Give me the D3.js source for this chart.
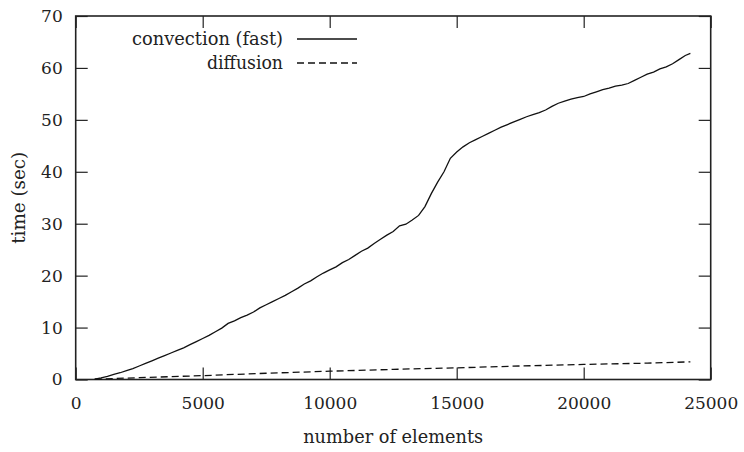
<!DOCTYPE html>
<html>
<head>
<meta charset="utf-8">
<script src="https://cdn.jsdelivr.net/npm/d3@7"></script>
</head>
<body style="margin:0; background:#fff">
<script>
const width = 744;
const height = 452;
const margin = { top: 16, right: 33.3, bottom: 72.5, left: 75.7 };
const fontName = "DejaVu Serif";

// convection (fast)
const convElements = [
  750, 1000, 1250, 1500, 1750, 2000, 2250, 2500, 2750, 3000, 3250, 3500, 3750,
  4000, 4250, 4500, 4750, 5000, 5250, 5500, 5750, 6000, 6250, 6500, 6750, 7000,
  7250, 7500, 7750, 8000, 8250, 8500, 8750, 9000, 9250, 9500, 9750, 10000,
  10250, 10500, 10750, 11000, 11250, 11500, 11750, 12000, 12250, 12500, 12750,
  13000, 13250, 13500, 13750, 14000, 14250, 14500, 14750, 15000, 15250, 15500,
  15750, 16000, 16250, 16500, 16750, 17000, 17250, 17500, 17750, 18000, 18250,
  18500, 18750, 19000, 19250, 19500, 19750, 20000, 20250, 20500, 20750, 21000,
  21250, 21500, 21750, 22000, 22250, 22500, 22750, 23000, 23250, 23500, 23750,
  24000, 24200
];
const convTime = [
  0.05, 0.3, 0.6, 1.0, 1.3, 1.7, 2.1, 2.6, 3.1, 3.6, 4.1, 4.6, 5.1,
  5.6, 6.1, 6.7, 7.3, 7.9, 8.5, 9.2, 9.9, 10.8, 11.3, 11.9, 12.4, 13.0,
  13.8, 14.4, 15.0, 15.6, 16.2, 16.9, 17.6, 18.4, 19.0, 19.8, 20.5, 21.1,
  21.7, 22.5, 23.1, 23.9, 24.7, 25.3, 26.2, 27.0, 27.8, 28.5, 29.6,
  29.9, 30.7, 31.6, 33.3, 35.8, 38.0, 40.0, 42.6, 43.8, 44.8, 45.6,
  46.2, 46.8, 47.4, 48.0, 48.6, 49.1, 49.6, 50.1, 50.6, 51.0, 51.4,
  51.9, 52.6, 53.2, 53.6, 54.0, 54.3, 54.5, 55.0, 55.4, 55.8, 56.1,
  56.5, 56.7, 57.0, 57.6, 58.2, 58.8, 59.2, 59.8, 60.2, 60.8, 61.6,
  62.4, 62.8
];

// diffusion
const diffElements = [750, 2500, 5000, 7500, 10000, 12500, 15000, 17500, 20000, 22500, 24200];
const diffTime = [0.05, 0.35, 0.75, 1.2, 1.6, 1.95, 2.25, 2.6, 2.9, 3.15, 3.4];

const xTicks = [0, 5000, 10000, 15000, 20000, 25000];
const yTicks = [0, 10, 20, 30, 40, 50, 60, 70];

const seriesNames = ["convection (fast)", "diffusion"];

const svg = d3.select("body")
  .append("svg")
  .attr("width", width)
  .attr("height", height);

const x = d3.scaleLinear().domain([0, 25000]).range([margin.left, width - margin.right]);
const y = d3.scaleLinear().domain([0, 70]).range([height - margin.bottom, margin.top]);

const tickLen = 12;

// bottom axis with labels, ticks pointing in
const xAxisG = svg.append("g")
  .attr("transform", `translate(0,${y(0)})`)
  .call(d3.axisBottom(x).tickValues(xTicks).tickFormat(d3.format("d"))
    .tickSizeInner(-tickLen).tickSizeOuter(0).tickPadding(17));

const yAxisG = svg.append("g")
  .attr("transform", `translate(${x(0)},0)`)
  .call(d3.axisLeft(y).tickValues(yTicks)
    .tickSizeInner(-tickLen).tickSizeOuter(0).tickPadding(13));

// mirrored ticks on top and right
svg.append("g")
  .attr("transform", `translate(0,${y(70)})`)
  .call(d3.axisTop(x).tickValues(xTicks).tickFormat("").tickSizeInner(-tickLen).tickSizeOuter(0));
svg.append("g")
  .attr("transform", `translate(${x(25000)},0)`)
  .call(d3.axisRight(y).tickValues(yTicks).tickFormat("").tickSizeInner(-tickLen).tickSizeOuter(0));

svg.selectAll("g").attr("font-family", fontName);
svg.selectAll(".domain").remove();
svg.selectAll(".tick line").attr("stroke", "#222").attr("stroke-width", 1.2);
svg.selectAll(".tick text").attr("font-size", 17).attr("fill", "#222");

// frame
svg.append("rect")
  .attr("x", x(0))
  .attr("y", y(70))
  .attr("width", x(25000) - x(0))
  .attr("height", y(0) - y(70))
  .attr("fill", "none")
  .attr("stroke", "#222")
  .attr("stroke-width", 1.6);

const line = d3.line().x((d) => x(d[0])).y((d) => y(d[1]));

svg.append("path")
  .datum(convElements.map((e, i) => [e, convTime[i]]))
  .attr("d", line)
  .attr("fill", "none")
  .attr("stroke", "#111")
  .attr("stroke-width", 1.3);

svg.append("path")
  .datum(diffElements.map((e, i) => [e, diffTime[i]]))
  .attr("d", line)
  .attr("fill", "none")
  .attr("stroke", "#111")
  .attr("stroke-width", 1.3)
  .attr("stroke-dasharray", "7,4");

// legend
const legendWidths = [151, 76];
seriesNames.forEach((name, i) => {
  const ly = 39 + i * 24;
  svg.append("text")
    .attr("font-family", fontName)
    .attr("font-size", 18)
    .attr("fill", "#222")
    .attr("x", 283)
    .attr("y", ly + 6)
    .attr("text-anchor", "end")
    .attr("textLength", legendWidths[i])
    .attr("lengthAdjust", "spacingAndGlyphs")
    .text(name);
  svg.append("line")
    .attr("x1", 297)
    .attr("x2", 357)
    .attr("y1", ly)
    .attr("y2", ly)
    .attr("stroke", "#111")
    .attr("stroke-width", 1.3)
    .attr("stroke-dasharray", i === 1 ? "7,4" : null);
});

// axis titles
svg.append("text")
  .attr("font-family", fontName)
  .attr("font-size", 18)
  .attr("fill", "#222")
  .attr("x", (x(0) + x(25000)) / 2)
  .attr("y", 443)
  .attr("text-anchor", "middle")
  .attr("textLength", 180)
  .attr("lengthAdjust", "spacingAndGlyphs")
  .text("number of elements");

svg.append("text")
  .attr("font-family", fontName)
  .attr("font-size", 18)
  .attr("fill", "#222")
  .attr("transform", `translate(25,${(y(0) + y(70)) / 2}) rotate(-90)`)
  .attr("text-anchor", "middle")
  .attr("textLength", 92)
  .attr("lengthAdjust", "spacingAndGlyphs")
  .text("time (sec)");
</script>
</body>
</html>
